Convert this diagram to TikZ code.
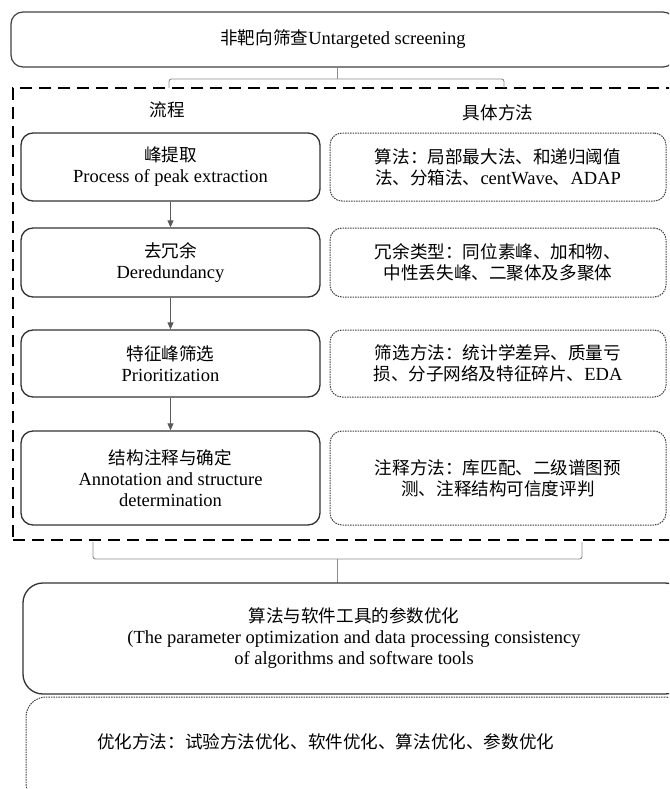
\documentclass[tikz,border=0pt]{standalone}
\usepackage{fontspec}
\setmainfont{Liberation Serif}
\newfontfamily\cjk{Noto Sans CJK SC}[Scale=0.95]
\usetikzlibrary{arrows.meta}
\newcommand{\zhtxt}[1]{{\cjk #1}}
\begin{document}
\begin{tikzpicture}[x=1pt,y=-1pt,
  every node/.style={font=\fontsize{18.5}{21}\selectfont, align=center, inner sep=0pt},
  topbox/.style={draw=black!75, line width=1.2pt, rounded corners=12pt},
  lbox/.style={draw=black!80, line width=1.3pt, rounded corners=12pt, minimum width=299pt},
  rbox/.style={draw=black!75, line width=1pt, dash pattern=on 1.5pt off 1pt, rounded corners=12pt, minimum width=336pt},
  bigbox/.style={draw=black!80, line width=1.3pt, rounded corners=20pt},
  dotbox/.style={draw=black!75, line width=1pt, dash pattern=on 1.5pt off 1pt, rounded corners=20pt},
  frame/.style={draw=black, line width=2pt, dash pattern=on 12pt off 7pt},
  brace/.style={draw=black!45, line width=0.9pt, rounded corners=2.5pt},
  flow/.style={draw=black!65, line width=1pt, -{Triangle[length=7pt,width=6pt]}}
]
\useasboundingbox (0,0) rectangle (669,789);
\clip (0,0) rectangle (669,789);

% top box
\node[topbox, minimum width=664pt, minimum height=55pt] (top) at (343,39.5)
  {\zhtxt{非靶向筛查}Untargeted screening};

% dashed frame
\node[frame, minimum width=667pt, minimum height=452pt] (frame) at (346.5,314) {};

% top brace
\coordinate (tb0) at (337,67);
\coordinate (tb1) at (337,79);
\coordinate (tbl) at (169,88);
\coordinate (tbr) at (504,88);
\draw[brace] (tbl) -- (169,79) -- (504,79) -- (tbr);
\draw[brace] (tb0) -- (tb1);

% headers
\node (h1) at (167,110) {\zhtxt{流程}};
\node (h2) at (498,113) {\zhtxt{具体方法}};

% left column
\node[lbox, minimum height=68pt] (b1) at (170.5,167)
  {\zhtxt{峰提取}\\Process of peak extraction};
\node[lbox, minimum height=69pt] (b2) at (170.5,262.5)
  {\zhtxt{去冗余}\\Deredundancy};
\node[lbox, minimum height=67pt] (b3) at (170.5,363.5)
  {\zhtxt{特征峰筛选}\\Prioritization};
\node[lbox, minimum height=94pt] (b4) at (170.5,478)
  {\zhtxt{结构注释与确定}\\Annotation and structure\\determination};

% right column
\node[rbox, minimum height=68pt] (r1) at (498,167)
  {\zhtxt{算法：局部最大法、和递归阈值}\\\zhtxt{法、分箱法、}centWave\zhtxt{、}ADAP};
\node[rbox, minimum height=69pt] (r2) at (498,262.5)
  {\zhtxt{冗余类型：同位素峰、加和物、}\\\zhtxt{中性丢失峰、二聚体及多聚体}};
\node[rbox, minimum height=67pt] (r3) at (498,363.5)
  {\zhtxt{筛选方法：统计学差异、质量亏}\\\zhtxt{损、分子网络及特征碎片、}EDA};
\node[rbox, minimum height=94pt] (r4) at (498,478)
  {\zhtxt{注释方法：库匹配、二级谱图预}\\\zhtxt{测、注释结构可信度评判}};

% arrows
\draw[flow] (b1) -- (b2);
\draw[flow] (b2) -- (b3);
\draw[flow] (b3) -- (b4);

% bottom brace
\coordinate (bbl) at (93,542);
\coordinate (bbr) at (582,542);
\coordinate (bb1) at (337,559);
\coordinate (bb2) at (337,583);
\draw[brace] (bbl) -- (93,559) -- (582,559) -- (bbr);
\draw[brace] (bb1) -- (bb2);

% bottom boxes
\node[bigbox, minimum width=662pt, minimum height=111pt] (b5) at (354,638.5)
  {\zhtxt{算法与软件工具的参数优化}\\(The parameter optimization and data processing consistency\\of algorithms and software tools};
\node[dotbox, minimum width=659pt, minimum height=106pt] (b6) at (355.5,750) {};
\node[anchor=west] (t6) at (97,742)
  {\zhtxt{优化方法：试验方法优化、软件优化、算法优化、参数优化}};
\end{tikzpicture}
\end{document}
